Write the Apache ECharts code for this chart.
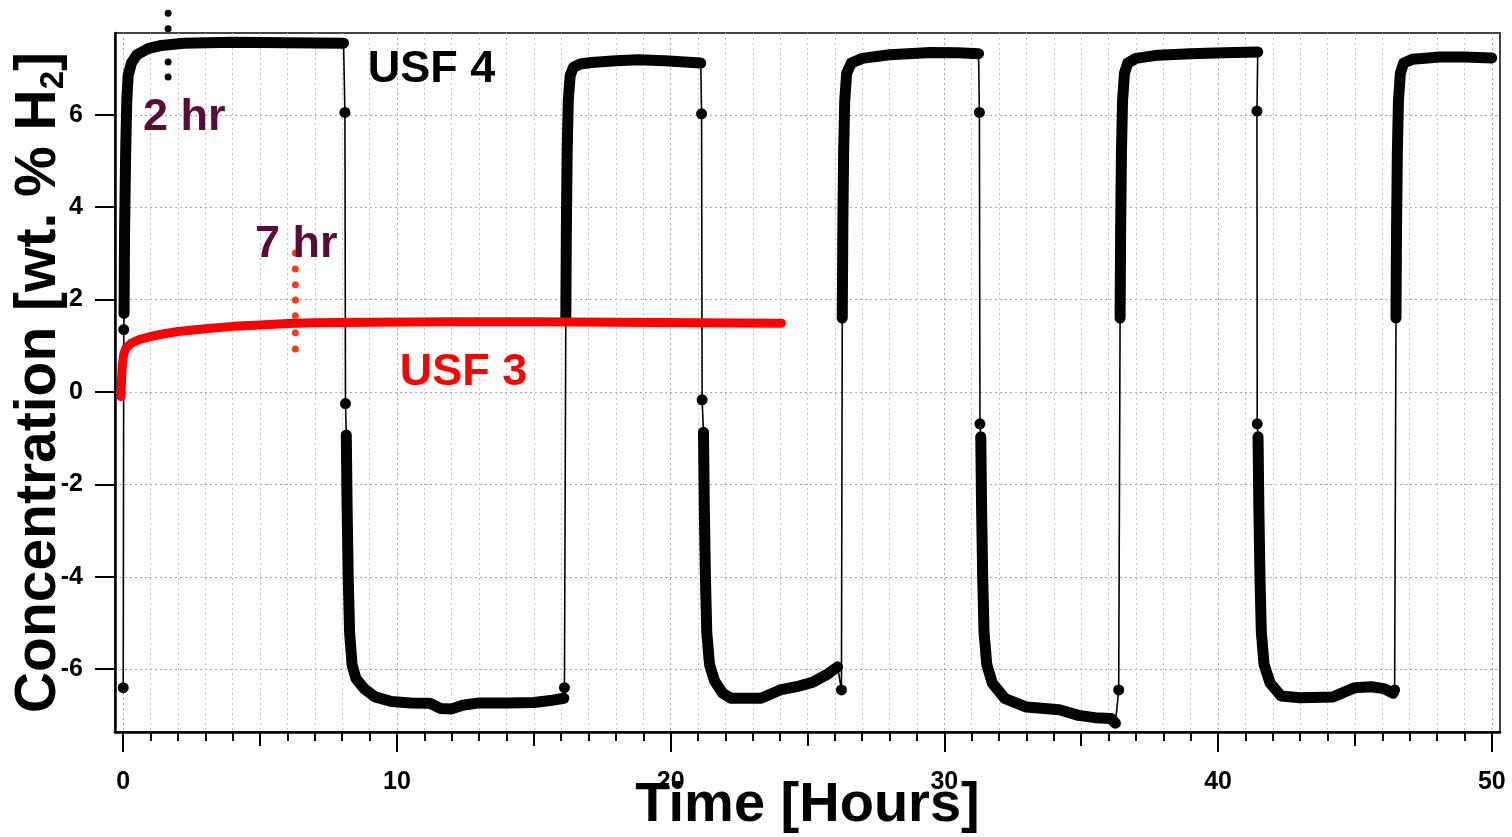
<!DOCTYPE html>
<html>
<head>
<meta charset="utf-8">
<script src="https://cdn.jsdelivr.net/npm/echarts@6/dist/echarts.min.js"></script>
<style>
html,body{margin:0;padding:0;background:#fff;}
#chart{width:1512px;height:837px;}
</style>
</head>
<body>
<div id="chart"></div>
<script>
// ---------- DATA ----------
const xTicksMajor = [0, 10, 20, 30, 40, 50];
const xTicksMid = [5, 15, 25, 35, 45];
const xTicksMinor = [1,2,3,4,6,7,8,9,11,12,13,14,16,17,18,19,21,22,23,24,26,27,28,29,31,32,33,34,36,37,38,39,41,42,43,44,46,47,48,49];
const yTicks = [-6, -4, -2, 0, 2, 4, 6];

// USF 4 (black) — thick (dense) segments
const startDots = [[0, -6.4], [0.02, 1.35]];
const charge1 = [[0.03,1.7],[0.05,3.5],[0.09,5.2],[0.13,6.3],[0.18,6.85],[0.3,7.12],[0.5,7.3],[0.9,7.43],[1.4,7.5],[2.2,7.55],[4,7.57],[6,7.56],[8.05,7.55]];
const fall1Dots = [[8.1, 6.05], [8.12, -0.25]];
const discharge1 = [[8.15,-0.93],[8.18,-2.5],[8.22,-4.0],[8.27,-5.2],[8.36,-5.9],[8.5,-6.2],[8.8,-6.42],[9.2,-6.6],[9.8,-6.7],[10.5,-6.73],[11.2,-6.74],[11.6,-6.85],[12.0,-6.86],[12.4,-6.78],[13,-6.73],[14,-6.73],[15,-6.72],[15.6,-6.68],[16.1,-6.63]];
const rise1Dots = [[16.12, -6.4]];
const charge2 = [[16.17,1.6],[16.19,3.5],[16.22,5.2],[16.26,6.3],[16.33,6.85],[16.45,7.03],[16.7,7.1],[17.1,7.13],[18,7.17],[18.8,7.19],[19.8,7.17],[21.1,7.12]];
const fall2Dots = [[21.13, 6.02], [21.15, -0.17]];
const discharge2 = [[21.2,-0.87],[21.23,-2.5],[21.27,-4.0],[21.32,-5.2],[21.42,-5.9],[21.6,-6.25],[21.9,-6.52],[22.2,-6.63],[23.3,-6.63],[24,-6.45],[24.6,-6.38],[25.2,-6.28],[25.7,-6.12],[26.1,-5.95]];
const rise2Dots = [[26.24, -6.45]];
const charge3 = [[26.27,1.6],[26.29,3.5],[26.32,5.2],[26.36,6.3],[26.43,6.9],[26.6,7.12],[27,7.22],[28,7.3],[29.5,7.35],[30.5,7.34],[31.25,7.32]];
const fall3Dots = [[31.28, 6.05], [31.3, -0.69]];
const discharge3 = [[31.33,-0.97],[31.36,-2.5],[31.4,-4.0],[31.45,-5.2],[31.55,-5.9],[31.75,-6.3],[32.2,-6.63],[33,-6.82],[34.2,-6.88],[34.9,-7.0],[35.5,-7.05],[36.1,-7.07],[36.25,-7.17]];
const rise3Dots = [[36.37, -6.45]];
const charge4 = [[36.42,1.6],[36.44,3.5],[36.47,5.2],[36.51,6.3],[36.58,6.9],[36.7,7.12],[37,7.22],[37.8,7.29],[39,7.32],[40.2,7.34],[41.45,7.36]];
const fall4Dots = [[41.42, 6.08], [41.43, -0.69]];
const discharge4 = [[41.46,-0.97],[41.49,-2.5],[41.53,-4.0],[41.58,-5.2],[41.68,-5.9],[41.9,-6.3],[42.3,-6.58],[43,-6.62],[44.2,-6.6],[45,-6.4],[45.6,-6.38],[46.05,-6.42],[46.4,-6.52]];
const rise4Dots = [[46.45, -6.45]];
const charge5 = [[46.5,1.6],[46.52,3.5],[46.55,5.2],[46.59,6.3],[46.66,6.9],[46.78,7.12],[47.1,7.2],[48.1,7.25],[49,7.25],[50,7.23]];

// USF 3 (red)
const usf3 = [[-0.08,-0.1],[-0.06,0.3],[-0.03,0.6],[0.02,0.82],[0.1,0.95],[0.3,1.06],[0.6,1.14],[1,1.2],[1.5,1.26],[2,1.31],[3,1.37],[4,1.42],[5,1.45],[6,1.48],[7,1.5],[9,1.51],[12,1.52],[15,1.52],[18,1.51],[21,1.5],[24.05,1.49]];

// dotted markers
const marker2hr = [[1.64,8.2],[1.64,7.86],[1.64,7.5],[1.64,7.14],[1.64,6.82]];
const marker7hr = [[6.29,3.01],[6.29,2.66],[6.29,2.32],[6.29,1.99],[6.29,1.65],[6.29,1.28],[6.29,0.93]];

// annotations
const annotationText = ['USF 4', '2 hr', '7 hr', 'USF 3'];
const annotationAt = [[11.26, 6.97], [2.23, 5.93], [6.32, 3.18], [12.43, 0.43]];

// ---------- CHART ----------
const FONT = "'Liberation Sans', Arial, Helvetica, sans-serif";
const thickSegs = [charge1, discharge1, charge2, discharge2, charge3, discharge3, charge4, discharge4, charge5];
const dotSets = [startDots, fall1Dots, rise1Dots, fall2Dots, rise2Dots, fall3Dots, rise3Dots, fall4Dots, rise4Dots];
const ordered = [startDots, charge1, fall1Dots, discharge1, rise1Dots, charge2, fall2Dots, discharge2, rise2Dots, charge3, fall3Dots, discharge3, rise3Dots, charge4, fall4Dots, discharge4, rise4Dots, charge5];
const thinPath = [].concat(...ordered);
const allDots = [].concat(...dotSets);
const annotationColors = ['#000000', '#5c0a3c', '#5c0a3c', '#ff0000'];

const majorGrid = {show: true, lineStyle: {color: '#a0a0d0', type: [2, 3], width: 1}};
const minorGrid = {show: true, lineStyle: {color: '#c4c4c4', type: [2, 3], width: 1}};

const series = [];
series.push({
  type: 'line', data: thinPath, showSymbol: false, symbol: 'none',
  lineStyle: {color: '#000', width: 1.6}, z: 2, animation: false, silent: true
});
thickSegs.forEach(seg => series.push({
  type: 'line', data: seg, showSymbol: false, symbol: 'none', smooth: false,
  lineStyle: {color: '#000', width: 11, cap: 'round', join: 'round'}, z: 3, animation: false, silent: true
}));
series.push({
  type: 'scatter', data: allDots, symbol: 'circle', symbolSize: 11,
  itemStyle: {color: '#000', opacity: 1}, z: 4, animation: false, silent: true
});
series.push({
  type: 'line', data: usf3, showSymbol: false, symbol: 'none',
  lineStyle: {color: '#ff0000', width: 9, cap: 'round', join: 'round'}, z: 5, animation: false, silent: true
});
series.push({
  type: 'scatter', data: marker2hr, symbolSize: 7, clip: false,
  itemStyle: {color: '#000', opacity: 1}, z: 1, animation: false, silent: true
});
series.push({
  type: 'scatter', data: marker7hr, symbolSize: 7, clip: false,
  itemStyle: {color: '#ff3a10', opacity: 1}, z: 6, animation: false, silent: true
});
series.push({
  type: 'scatter', symbolSize: 0, clip: false, z: 10, animation: false, silent: true,
  itemStyle: {opacity: 1},
  data: annotationAt.map((p, i) => ({
    value: [p[0], p[1], annotationText[i]],
    label: {color: annotationColors[i]}
  })),
  label: {
    show: true, position: 'inside', formatter: p => p.value[2],
    fontFamily: FONT, fontWeight: 'bold', fontSize: 45, opacity: 1
  }
});

const baseX = {
  type: 'value', min: -0.3, max: 50.3, gridIndex: 0, position: 'bottom'
};

const option = {
  backgroundColor: '#fff',
  animation: false,
  grid: {left: 115, right: 12, top: 33, bottom: 105, show: true, borderColor: '#444', borderWidth: 2, backgroundColor: 'transparent', outerBoundsMode: 'none', containLabel: false},
  xAxis: [
    Object.assign({}, baseX, {
      axisLine: {show: true, onZero: false, lineStyle: {color: '#000', width: 2.5}},
      axisTick: {show: true, customValues: xTicksMajor, length: 20, lineStyle: {color: '#000', width: 2}},
      axisLabel: {show: true, customValues: xTicksMajor, margin: 38, color: '#000', fontFamily: FONT, fontWeight: 'bold', fontSize: 25},
      splitLine: majorGrid,
      name: 'Time [Hours]', nameLocation: 'middle', nameGap: 46, nameMoveOverlap: false,
      nameTextStyle: {color: '#000', fontFamily: FONT, fontWeight: 'bold', fontSize: 56}
    }),
    Object.assign({}, baseX, {
      axisLine: {show: false, onZero: false},
      axisTick: {show: true, customValues: xTicksMid, length: 14, lineStyle: {color: '#000', width: 2}},
      axisLabel: {show: false},
      splitLine: minorGrid
    }),
    Object.assign({}, baseX, {
      axisLine: {show: false, onZero: false},
      axisTick: {show: true, customValues: xTicksMinor, length: 9, lineStyle: {color: '#000', width: 2}},
      axisLabel: {show: false},
      splitLine: minorGrid
    })
  ],
  yAxis: {
    type: 'value', min: -7.36, max: 7.77,
    axisLine: {show: true, onZero: false, lineStyle: {color: '#000', width: 2.5}},
    axisTick: {show: true, customValues: yTicks, length: 20, lineStyle: {color: '#000', width: 2}},
    axisLabel: {show: true, customValues: yTicks, margin: 32, color: '#000', fontFamily: FONT, fontWeight: 'bold', fontSize: 25},
    splitLine: majorGrid,
    name: '{m|Concentration [wt. % H}{s|2}{m|]}',
    nameLocation: 'middle', nameGap: 45, nameRotate: 90, nameMoveOverlap: false,
    nameTextStyle: {
      color: '#000',
      rich: {
        m: {fontFamily: FONT, fontWeight: 'bold', fontSize: 57, lineHeight: 62, color: '#000'},
        s: {fontFamily: FONT, fontWeight: 'bold', fontSize: 33, lineHeight: 30, verticalAlign: 'bottom', color: '#000'}
      }
    }
  },
  series: series
};

const chart = echarts.init(document.getElementById('chart'), null, {renderer: 'canvas'});
chart.setOption(option);
</script>
</body>
</html>
